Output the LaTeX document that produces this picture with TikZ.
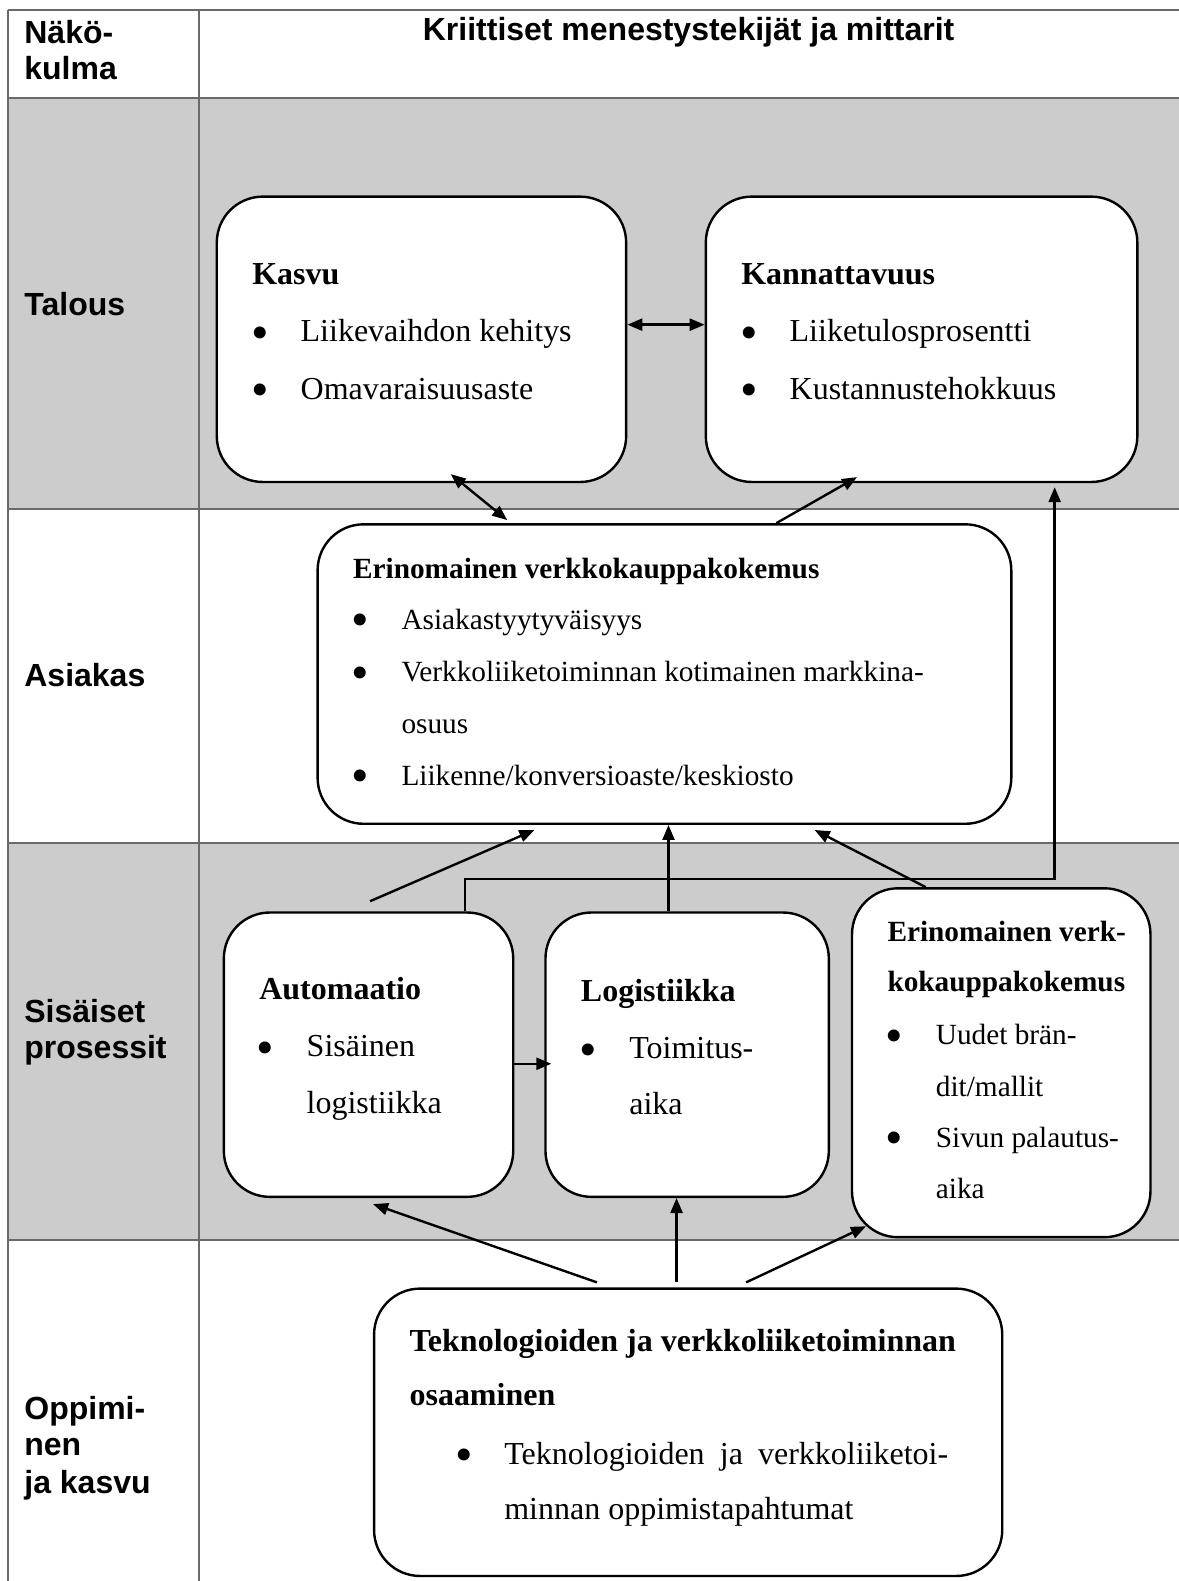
\documentclass[tikz,border=0pt]{standalone}
\usepackage{fontspec}
\setmainfont{Liberation Serif}
\setsansfont{Liberation Sans}
\usetikzlibrary{arrows.meta,calc,fit}
\definecolor{rowgray}{HTML}{CCCCCC}
\definecolor{gridgray}{HTML}{6A6A6A}
\newcommand\bigdot{\raisebox{-7.5pt}{\fontsize{50}{50}\selectfont\textbullet}}
\tikzset{
  grid/.style={draw=gridgray, line width=2.2pt},
  box/.style={draw=black, line width=2.4pt, fill=white, rounded corners=46pt, inner sep=0pt},
  tip/.tip={Triangle[length=15pt,width=12pt]},
  conn/.style={draw=black, line width=2.4pt, -tip},
  both/.style={draw=black, line width=2.4pt, tip-tip},
  body/.style={anchor=base west, inner sep=0pt, font=\fontsize{32}{38}\selectfont},
  bodyb/.style={anchor=base west, inner sep=0pt, font=\fontsize{32}{38}\selectfont\bfseries},
  small/.style={anchor=base west, inner sep=0pt, font=\fontsize{29.3}{35}\selectfont},
  smallb/.style={anchor=base west, inner sep=0pt, font=\fontsize{29.3}{35}\selectfont\bfseries},
  bul/.style={anchor=base, inner sep=0pt},
  side/.style={anchor=base west, inner sep=0pt, font=\sffamily\bfseries\fontsize{32}{37}\selectfont},
}
\begin{document}
\begin{tikzpicture}[x=1.0086pt, y=-1.0086pt]
\useasboundingbox (0,0) rectangle (1169,1568);

% table background and rules
\fill[rowgray] (8,97) rectangle (1169,505);
\fill[rowgray] (8,836) rectangle (1169,1230);
\foreach \yy in {10,97,505,836,1230} \draw[grid] (8,\yy) -- (1169,\yy);
\draw[grid] (8,10) -- (8,1568);
\draw[grid] (197,10) -- (197,1568);

% header
\node[side] (h1a) at (24,43) {Näkö-};
\node[side] (h1b) at (24,79) {kulma};
\node[side, anchor=base] (h2) at (683,40) {Kriittiset menestystekijät ja mittarit};

% perspective labels
\node[side] (ltal) at (24,313) {Talous};
\node[side] (lasi) at (24,681) {Asiakas};
\node[side] (lsis1) at (24,1014) {Sisäiset};
\node[side] (lsis2) at (24,1050) {prosessit};
\node[side] (lopp1) at (24,1408) {Oppimi-};
\node[side] (lopp2) at (24,1444) {nen};
\node[side] (lopp3) at (24,1481) {ja kasvu};

% boxes
\node[box, fit={(215,195) (621,478)}] (kasvu) {};
\node[box, fit={(700,195) (1128,478)}] (kann) {};
\node[box, fit={(315,520) (1003,817)}] (asiak) {};
\node[box, fit={(222,905) (509,1187)}] (auto) {};
\node[box, fit={(541,905) (822,1187)}] (logi) {};
\node[box, fit={(845,881) (1141,1227)}] (erin) {};
\node[box, fit={(371,1278) (994,1563)}] (tekno) {};

% Kasvu
\node[bodyb] (t1) at (250,282) {Kasvu};
\node[bul] (b1a) at (258,339) {\bigdot};
\node[body] (t1a) at (298,339) {Liikevaihdon kehitys};
\node[bul] (b1b) at (258,396) {\bigdot};
\node[body] (t1b) at (298,396) {Omavaraisuusaste};

% Kannattavuus
\node[bodyb] (t2) at (735,282) {Kannattavuus};
\node[bul] (b2a) at (743,339) {\bigdot};
\node[body] (t2a) at (783,339) {Liiketulosprosentti};
\node[bul] (b2b) at (743,396) {\bigdot};
\node[body] (t2b) at (783,396) {Kustannustehokkuus};

% Asiakas
\node[smallb] (t3) at (350,574) {Erinomainen verkkokauppakokemus};
\node[bul] (b3a) at (357,624) {\bigdot};
\node[small] (t3a) at (398,624) {Asiakastyytyväisyys};
\node[bul] (b3b) at (357,676) {\bigdot};
\node[small] (t3b) at (398,676) {Verkkoliiketoiminnan kotimainen markkina-};
\node[small] (t3c) at (398,727) {osuus};
\node[bul] (b3d) at (357,779) {\bigdot};
\node[small] (t3d) at (398,779) {Liikenne/konversioaste/keskiosto};

% Automaatio
\node[bodyb] (t4) at (257,991) {Automaatio};
\node[bul] (b4a) at (263,1048) {\bigdot};
\node[body] (t4a) at (304,1048) {Sisäinen};
\node[body] (t4b) at (304,1104) {logistiikka};

% Logistiikka
\node[bodyb] (t5) at (576,993) {Logistiikka};
\node[bul] (b5a) at (583,1050) {\bigdot};
\node[body] (t5a) at (624,1050) {Toimitus-};
\node[body] (t5b) at (624,1105) {aika};

% Erinomainen verkkokauppakokemus (processes)
\node[smallb] (t6) at (880,934) {Erinomainen verk-};
\node[smallb] (t6x) at (880,983) {kokauppakokemus};
\node[bul] (b6a) at (887,1036) {\bigdot};
\node[small] (t6a) at (928,1036) {Uudet brän-};
\node[small] (t6b) at (928,1087) {dit/mallit};
\node[bul] (b6c) at (887,1138) {\bigdot};
\node[small] (t6c) at (928,1138) {Sivun palautus-};
\node[small] (t6d) at (928,1189) {aika};

% Teknologiat
\node[bodyb] (t7) at (406,1340) {Teknologioiden ja verkkoliiketoiminnan};
\node[bodyb] (t7x) at (406,1394) {osaaminen};
\node[bul] (b7a) at (460,1452) {\bigdot};
\node[body] (t7a) at (500,1452) {\makebox[444pt][s]{Teknologioiden ja verkkoliiketoi-}};
\node[body] (t7b) at (500,1507) {minnan oppimistapahtumat};

% connectors
\draw[both] (kasvu.east |- 0,322) -- (kann.west |- 0,322);
\draw[both] ($(kasvu.south -| 447,0)+(0,-9)$) -- ($(asiak.north -| 503,0)+(0,-3)$);
\draw[conn] (asiak.north -| 770,0) -- ($(kann.south -| 850,0)+(0,-6)$);
\draw[conn] (auto.north -| 461,0) -- (461,872) -- (1046,872) -- ($(kann.south -| 1046,0)+(0,4)$);
\coordinate (sa) at ($(auto.north -| 367,0)+(0,-10)$);
\draw[conn] (sa) -- ($(asiak.south -| 530,0)+(0,5)$);
\draw[conn] (logi.north -| 663,0) -- (asiak.south -| 663,0);
\draw[conn] (erin.north -| 918,0) -- ($(asiak.south -| 808,0)+(0,5)$);
\draw[conn] (auto.east |- 0,1055) -- ($(logi.west |- 0,1055)+(7,0)$);
\coordinate (st1) at ($(tekno.north -| 592,0)+(0,-5)$);
\coordinate (st2) at ($(tekno.north -| 671,0)+(0,-5)$);
\coordinate (st3) at ($(tekno.north -| 740,0)+(0,-5)$);
\draw[conn] (st1) -- ($(auto.south -| 370,0)+(0,6)$);
\draw[conn] (st2) -- (logi.south -| 671,0);
\draw[conn] (st3) -- ($(erin.south west)+(15,-12)$);
\end{tikzpicture}
\end{document}
